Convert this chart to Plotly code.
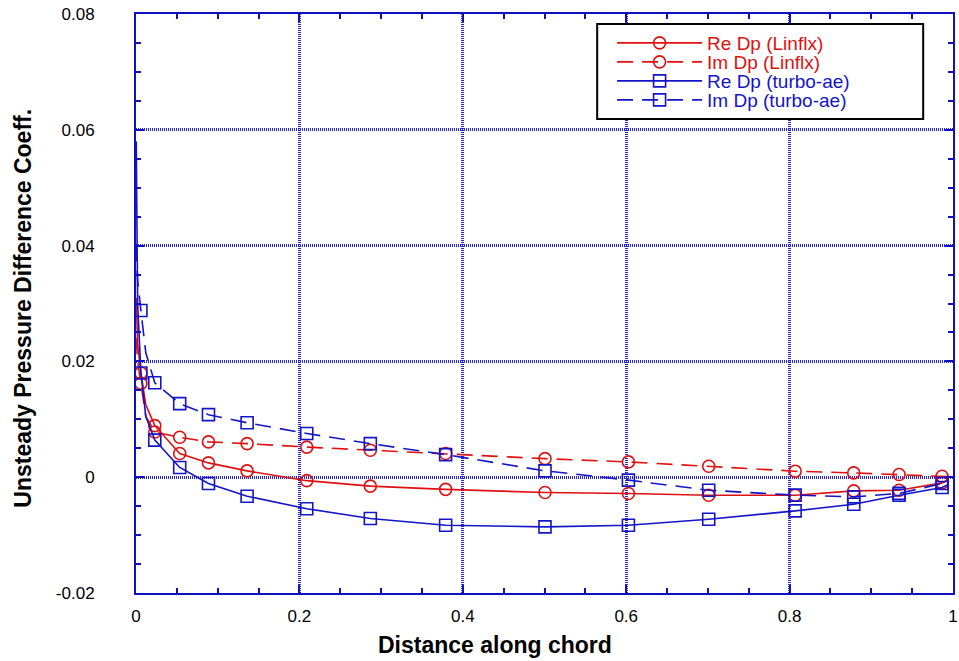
import plotly.graph_objects as go

# Chordwise stations where the symbols are plotted
x_station = [0.006, 0.023, 0.0535, 0.0887, 0.136, 0.209, 0.2868, 0.379,
             0.5006, 0.6027, 0.701, 0.8068, 0.8785, 0.934, 0.9866]

# Extra curve points near the leading edge (singularity) and at the trailing edge
x_le = [0.0003, 0.002]
x_mid = 0.012
x_te = 0.995

# Re / Im of the unsteady pressure difference, LINFLX solution
re_linflx = [0.0180, 0.0089, 0.0041, 0.00247, 0.00109, -0.0006, -0.00155, -0.0021,
             -0.00264, -0.00282, -0.00311, -0.00311, -0.00237, -0.00225, -0.00098]
re_linflx_le = [0.031, 0.023]
re_linflx_mid = 0.0125
re_linflx_te = -0.0004

im_linflx = [0.0162, 0.0078, 0.0069, 0.0061, 0.0058, 0.0052, 0.00466, 0.0041,
             0.0032, 0.00264, 0.0019, 0.00104, 0.00074, 0.00047, 0.00017]
im_linflx_le = [0.024, 0.020]
im_linflx_mid = 0.0105
im_linflx_te = 0.0001

# Re / Im of the unsteady pressure difference, turbo-ae solution
re_turbo = [0.0180, 0.0064, 0.00168, -0.00109, -0.00328, -0.00544, -0.00713, -0.00829,
            -0.00858, -0.00829, -0.00725, -0.00582, -0.00466, -0.00311, -0.00178]
re_turbo_le = [0.058, 0.030]
re_turbo_mid = 0.0105
re_turbo_te = -0.0012

im_turbo = [0.0288, 0.0163, 0.0127, 0.0108, 0.0094, 0.00755, 0.0058, 0.0039,
            0.0011, -0.0005, -0.00225, -0.0031, -0.0034, -0.0028, -0.0011]
im_turbo_le = [0.040, 0.034]
im_turbo_mid = 0.0215
im_turbo_te = -0.0006

series_names = ["Re Dp (Linflx)", "Im Dp (Linflx)", "Re Dp (turbo-ae)", "Im Dp (turbo-ae)"]

x_tickvals = [0, 0.2, 0.4, 0.6, 0.8, 1]
x_ticktext = ["0", "0.2", "0.4", "0.6", "0.8", "1"]
y_tickvals = [-0.02, 0, 0.02, 0.04, 0.06, 0.08]
y_ticktext = ["-0.02", "0", "0.02", "0.04", "0.06", "0.08"]

x_title = "Distance along chord"
y_title = "Unsteady Pressure Difference Coeff."

RED = "#e01010"
BLUE = "#1414c8"
AXIS_BLUE = "#1010c0"
GRID_BLUE = "#2828d0"
FONT = "Liberation Sans, Arial, sans-serif"
DASH = "16px,9px"
MSIZE = 12


def curve(le, mid, vals, te):
    xs = x_le + [x_station[0], x_mid] + x_station[1:] + [x_te]
    ys = le + [vals[0], mid] + vals[1:] + [te]
    return xs, ys


specs = [
    (re_linflx, re_linflx_le, re_linflx_mid, re_linflx_te, RED, "solid", "circle-open"),
    (im_linflx, im_linflx_le, im_linflx_mid, im_linflx_te, RED, DASH, "circle-open"),
    (re_turbo, re_turbo_le, re_turbo_mid, re_turbo_te, BLUE, "solid", "square-open"),
    (im_turbo, im_turbo_le, im_turbo_mid, im_turbo_te, BLUE, DASH, "square-open"),
]

fig = go.Figure()
for i, (vals, le, mid, te, color, dash, sym) in enumerate(specs):
    xs, ys = curve(le, mid, vals, te)
    fig.add_trace(go.Scatter(x=xs, y=ys, mode="lines", showlegend=False,
                             line=dict(color=color, width=1.6, dash=dash)))
    fig.add_trace(go.Scatter(x=x_station, y=vals, mode="markers", showlegend=False,
                             marker=dict(symbol=sym, size=MSIZE, color=color,
                                         line=dict(color=color, width=1.6))))
    # legend entry (one legend per row so the rows can sit close together)
    lg = "legend" if i == 0 else f"legend{i + 1}"
    fig.add_trace(go.Scatter(x=[None], y=[None], mode="lines+markers", name=series_names[i],
                             legend=lg,
                             line=dict(color=color, width=1.6, dash=dash),
                             marker=dict(symbol=sym, size=MSIZE, color=color,
                                         line=dict(color=color, width=1.6))))

axis_common = dict(
    showline=True, linecolor=AXIS_BLUE, linewidth=2, mirror="ticks",
    ticks="inside", ticklen=8, tickwidth=2, tickcolor=AXIS_BLUE,
    showgrid=True, gridcolor=GRID_BLUE, gridwidth=2.5, griddash="1px,1px",
    zeroline=False, tickfont=dict(family=FONT, size=17, color="black"),
    ticklabeloverflow="allow",
)

fig.update_xaxes(range=[0, 1], tickmode="array", tickvals=x_tickvals, ticktext=x_ticktext,
                 minor=dict(dtick=0.05, tick0=0, ticks="inside", ticklen=5,
                            tickwidth=1.5, tickcolor=AXIS_BLUE, showgrid=False),
                 ticklabelstandoff=7, **axis_common)
fig.update_yaxes(range=[-0.02, 0.08], tickmode="array", tickvals=y_tickvals, ticktext=y_ticktext,
                 minor=dict(dtick=0.005, tick0=0, ticks="inside", ticklen=5,
                            tickwidth=1.5, tickcolor=AXIS_BLUE, showgrid=False),
                 ticklabelstandoff=36, **axis_common)

L, R, T, B = 136, 958, 14, 593
W, H = 959, 661


def px_x(p):
    return (p - L) / (R - L)


def px_y(p):
    return (B - p) / (B - T)


# axis titles
fig.add_annotation(text=f"<b>{x_title}</b>", xref="paper", yref="paper",
                   x=px_x(497), y=px_y(645), xanchor="center", yanchor="middle",
                   showarrow=False, font=dict(family=FONT, size=23, color="black"))
fig.add_annotation(text=f"<b>{y_title}</b>", xref="paper", yref="paper",
                   x=px_x(22), y=px_y(308), xanchor="center", yanchor="middle",
                   showarrow=False, textangle=-90,
                   font=dict(family=FONT, size=23, color="black"))

# legend box
fig.add_shape(type="rect", xref="paper", yref="paper",
              x0=px_x(600), x1=px_x(928), y0=px_y(119), y1=px_y(24),
              line=dict(color="black", width=2), fillcolor="white", layer="above")

row_y = [43, 62, 81, 100]
row_color = [RED, RED, BLUE, BLUE]
legend_layout = {}
for i, py in enumerate(row_y):
    key = "legend" if i == 0 else f"legend{i + 1}"
    legend_layout[key] = dict(x=px_x(615), y=px_y(py), xanchor="left", yanchor="middle",
                              bgcolor="rgba(0,0,0,0)", borderwidth=0,
                              font=dict(family=FONT, size=19, color=row_color[i]),
                              itemwidth=85, tracegroupgap=0)

fig.update_layout(
    width=W, height=H,
    margin=dict(l=L, r=W - R, t=T, b=H - B),
    paper_bgcolor="white", plot_bgcolor="white",
    **legend_layout,
)

fig.write_html("out.html")
